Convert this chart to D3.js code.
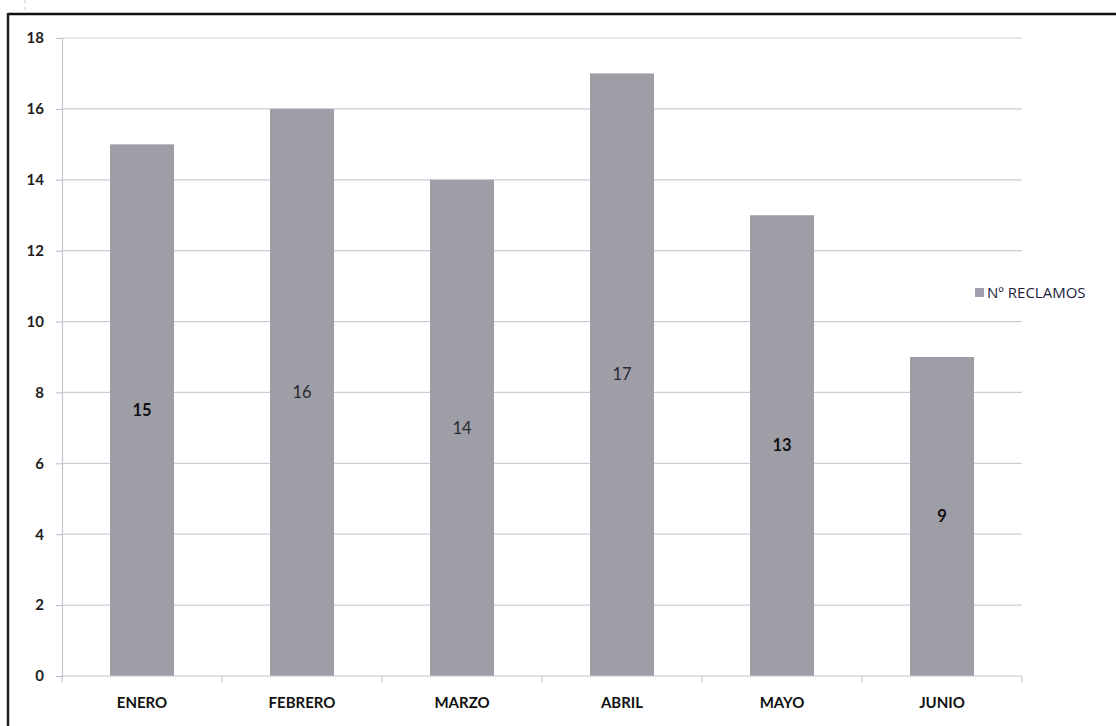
<!DOCTYPE html>
<html>
<head>
<meta charset="utf-8">
<script src="https://cdn.jsdelivr.net/npm/d3@7"></script>
<style>
  html, body { margin: 0; padding: 0; background: #fff; }
  svg { display: block; }
</style>
</head>
<body>
<svg id="chart" width="1116" height="726"></svg>
<script>
// Monthly complaints (Nº RECLAMOS)
const months = ["ENERO", "FEBRERO", "MARZO", "ABRIL", "MAYO", "JUNIO"];
const reclamos = [15, 16, 14, 17, 13, 9];
const yTicks = [0, 2, 4, 6, 8, 10, 12, 14, 16, 18];
const seriesName = "Nº RECLAMOS";

const svg = d3.select("#chart");
const W = 1116, H = 726;
const plot = { left: 62, right: 1022, top: 38, bottom: 676 };

// frame lines of the chart area
svg.append("line").attr("x1", 8).attr("x2", W).attr("y1", 14).attr("y2", 14)
  .attr("stroke", "#111").attr("stroke-width", 2.5);
svg.append("line").attr("x1", 8).attr("x2", 8).attr("y1", 13).attr("y2", H)
  .attr("stroke", "#222").attr("stroke-width", 2.5);
svg.append("line").attr("x1", 25).attr("x2", 25).attr("y1", 0).attr("y2", 14)
  .attr("stroke", "#ccc").attr("stroke-width", 1).attr("stroke-dasharray", "3,4");

const x = d3.scaleBand().domain(months).range([plot.left, plot.right]).paddingInner(0.6).paddingOuter(0.3);
const xStep = d3.scaleBand().domain(months).range([plot.left, plot.right]);
const y = d3.scaleLinear().domain([0, 18]).range([plot.bottom, plot.top]);

// horizontal gridlines
svg.append("g").selectAll("line").data(yTicks.filter(t => t > 0)).join("line")
  .attr("x1", plot.left).attr("x2", plot.right)
  .attr("y1", d => y(d)).attr("y2", d => y(d))
  .attr("stroke", "#cdcdd9").attr("stroke-width", 1.2);

// y axis
const yAxis = d3.axisLeft(y).tickValues(yTicks).tickSize(6).tickPadding(12);
const gy = svg.append("g").attr("transform", `translate(${plot.left},0)`).call(yAxis);
gy.select(".domain").attr("stroke", "#c4c4d0").attr("stroke-width", 1.2);
gy.selectAll(".tick line").attr("stroke", "#b8b8c8");
gy.selectAll(".tick text")
  .attr("font-family", "Lato, 'Open Sans', sans-serif").attr("font-size", 15)
  .attr("font-weight", 700).attr("fill", "#1e1e22");

// bars
svg.append("g").selectAll("rect").data(months).join("rect")
  .attr("x", d => x(d)).attr("width", x.bandwidth())
  .attr("y", (d, i) => y(reclamos[i])).attr("height", (d, i) => y(0) - y(reclamos[i]))
  .attr("fill", "#9e9ea6");

// x axis with ticks at category boundaries
svg.append("line").attr("x1", plot.left).attr("x2", plot.right)
  .attr("y1", plot.bottom).attr("y2", plot.bottom)
  .attr("stroke", "#c4c4d0").attr("stroke-width", 1.2);
svg.append("g").selectAll("line").data(months.concat(["_end"])).join("line")
  .attr("x1", (d, i) => plot.left + i * xStep.step()).attr("x2", (d, i) => plot.left + i * xStep.step())
  .attr("y1", plot.bottom).attr("y2", plot.bottom + 6)
  .attr("stroke", "#b8b8c8");
svg.append("g").selectAll("text").data(months).join("text")
  .attr("x", d => x(d) + x.bandwidth() / 2).attr("y", 708)
  .attr("text-anchor", "middle")
  .attr("font-family", "Lato, 'Open Sans', sans-serif").attr("font-size", 15)
  .attr("font-weight", 700).attr("fill", "#111")
  .text(d => d);

// value labels in the middle of each bar
const strongLabels = new Set(["ENERO", "MAYO", "JUNIO"]);
svg.append("g").selectAll("text").data(months).join("text")
  .attr("x", d => x(d) + x.bandwidth() / 2)
  .attr("y", (d, i) => y(reclamos[i] / 2))
  .attr("dy", "0.35em").attr("text-anchor", "middle")
  .attr("font-family", "Lato, 'Open Sans', sans-serif").attr("font-size", 16.5)
  .attr("font-weight", d => strongLabels.has(d) ? 700 : 400)
  .attr("fill", d => strongLabels.has(d) ? "#111" : "#2a2a30")
  .text((d, i) => reclamos[i]);

// legend
const lg = svg.append("g").attr("transform", "translate(975,293)");
lg.append("rect").attr("x", 0).attr("y", -5).attr("width", 9).attr("height", 9).attr("fill", "#a0a0b0");
lg.append("text").attr("x", 12).attr("y", 0).attr("dy", "0.35em")
  .attr("font-family", "'Open Sans', sans-serif").attr("font-size", 15)
  .attr("fill", "#1c1c3a").text(seriesName);
</script>
</body>
</html>
